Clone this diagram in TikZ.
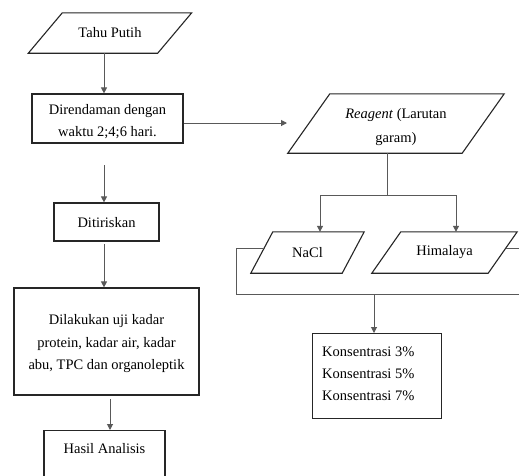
\documentclass[tikz,border=0pt]{standalone}
\usepackage{fontspec}
\setmainfont{Liberation Serif}
\usetikzlibrary{calc,arrows.meta}
\tikzset{
  x=1pt,y=-1pt,
  box/.style={draw=black!85,line width=1.2pt,rectangle,inner sep=0pt,align=center,font=\fontsize{14.5}{18}\selectfont},
  para/.style={rectangle,inner sep=0pt,align=center,font=\fontsize{14.5}{18}\selectfont},
  pline/.style={draw=black!85,line width=1.1pt,line join=miter},
  conn/.style={draw=black!65,line width=1pt},
  arr/.style={conn,-{Triangle[length=6pt,width=6pt]}},
}
\newcommand{\pgram}[2]{%
  \draw[pline] ($(#1.north west)+(#2/2,0)$) -- ($(#1.north east)+(#2/2,0)$) --
    ($(#1.south east)-(#2/2,0)$) -- ($(#1.south west)-(#2/2,0)$) -- cycle;}
\begin{document}
\begin{tikzpicture}
\clip (0,0) rectangle (519,475);
\fill[white] (0,0) rectangle (519,475);
% left column
\node[para,minimum width=129,minimum height=40] (tahu) at (110,33) {Tahu Putih};
\node[para] (tahut) at (110,34) {};
\pgram{tahu}{34}
\node[box,minimum width=151,minimum height=49] (dir) at (107.5,118.5) {};
\node[para,font=\fontsize{14.5}{22}\selectfont] (dirt) at (107.5,122) {Direndaman dengan\\waktu 2;4;6 hari.};
\node[box,minimum width=105,minimum height=38] (dit) at (106.5,222) {};
\node[para] (ditt) at (106.5,223) {Ditiriskan};
\node[box,minimum width=185,minimum height=107] (dil) at (106.5,341.5) {};
\node[para,font=\fontsize{14.5}{22.5}\selectfont] (dilt) at (106.5,344) {Dilakukan uji kadar\\protein, kadar air, kadar\\abu, TPC dan organoleptik};
\node[box,minimum width=121,minimum height=60,anchor=north] (has) at (104.5,430) {};
\node[para] (hast) at (104.5,449) {Hasil Analisis};
% right column
\node[para,minimum width=174,minimum height=59] (rea) at (396,123.5) {};
\node[para,font=\fontsize{14.5}{24}\selectfont] (reat) at (396,127) {\textit{Reagent} (Larutan\\garam)};
\pgram{rea}{42}
\node[para,minimum width=91,minimum height=41] (nacl) at (307.5,252.5) {NaCl};
\pgram{nacl}{22}
\node[para,minimum width=116,minimum height=41] (him) at (444.5,252.5) {Himalaya};
\pgram{him}{29}
\node[box,minimum width=129,minimum height=85,anchor=north west] (kon) at (312,333) {};
\node[para,anchor=north west,align=left,font=\fontsize{14.5}{22}\selectfont] (kont) at (322,347) {Konsentrasi 3\%\\Konsentrasi 5\%\\Konsentrasi 7\%};
% connectors
\coordinate (c1) at (104,53);
\draw[arr] (c1) -- (c1 |- dir.north);
\coordinate (c2) at (104,165);
\draw[arr] (c2) -- (c2 |- dit.north);
\coordinate (c3) at (104,244);
\draw[arr] (c3) -- (c3 |- dil.north);
\coordinate (c4) at (110,399);
\draw[arr] (c4) -- (c4 |- has.north);
\coordinate (c5) at (287,123);
\draw[arr] (dir.east |- c5) -- (c5);
\coordinate (split) at (387,195);
\draw[conn] (rea.south -| split) -- (split);
\coordinate (sl) at (320,195);
\coordinate (sr) at (456,195);
\draw[conn] (sl) -- (sr);
\draw[arr] (sl) -- (sl |- nacl.north);
\draw[arr] (sr) -- (sr |- him.north);
\coordinate (nl) at (264.5,248);
\coordinate (hr) at (505.5,248);
\coordinate (bl) at (236,294);
\coordinate (br) at (525,294);
\coordinate (bm) at (374,294);
\draw[conn] (nl) -- (bl |- nl) -- (bl) -- (br);
\draw[conn] (hr) -- (br |- hr);
\draw[arr] (bm) -- (bm |- kon.north);
\end{tikzpicture}
\end{document}
